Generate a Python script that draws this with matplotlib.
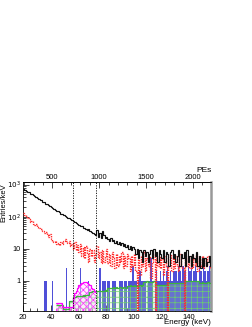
import numpy as np
import matplotlib
matplotlib.use("Agg")
import matplotlib.pyplot as plt
from matplotlib.ticker import FixedLocator, FixedFormatter, MultipleLocator, LogLocator, NullFormatter

plt.rcParams['font.family'] = ['Liberation Sans', 'DejaVu Sans']
plt.rcParams['hatch.linewidth'] = 0.5

# ---------------- data (1 keV bins, 20..156 keV) ----------------
edges = np.arange(20, 157, 1)

total_counts = [
    740, 690, 650, 600, 570, 520, 500, 460, 430, 410,
    380, 360, 330, 320, 290, 280, 255, 240, 225, 210,
    195, 185, 170, 165, 150, 145, 135, 125, 120, 110,
    105, 98, 92, 88, 82, 76, 72, 68, 62, 60,
    55, 52, 50, 45, 44, 40, 38, 42, 36, 33,
    30, 28, 26, 38, 24, 30, 22, 35, 26, 21,
    24, 20, 18, 22, 17, 19, 15, 18, 14, 16,
    13, 15, 12, 14, 11, 13, 10, 12, 9, 11,
    10, 7, 10, 5, 9, 8, 4, 9, 6, 8,
    4, 7, 9, 5, 10, 6, 8, 4, 9, 7,
    5, 9, 4, 8, 7, 3, 8, 9, 5, 7,
    4, 6, 9, 3, 7, 5, 8, 3, 9, 4,
    6, 3, 7, 5, 4, 8, 3, 6, 2.5, 5,
    3, 5, 2.8, 4, 6, 3,
]

red_counts = [
    130, 110, 100, 90, 85, 70, 75, 60, 55, 58,
    48, 45, 40, 42, 35, 30, 33, 26, 24, 28,
    20, 18, 16, 18, 14, 15, 13, 16, 14, 18,
    20, 17, 15, 18, 12, 14, 10, 16, 9, 13,
    8, 14, 6, 11, 5, 12, 7, 4, 10, 6,
    9, 4, 7, 12, 5, 8, 3.5, 9, 4, 6,
    10, 3.5, 7, 3, 8, 5, 2.5, 7, 3, 6,
    4, 8, 2.5, 6, 3, 7, 5, 2, 6, 3,
    7, 2, 0, 5, 1.5, 6, 3, 8, 2, 5,
    3, 6, 1.2, 4, 7, 0, 5, 3, 6, 2.5,
    5, 1.5, 6, 3, 0, 4, 7, 2, 5, 2.5,
    6, 3, 2, 7, 3, 2.5, 0, 5, 3, 6,
    2.5, 6, 2.5, 5, 3, 7, 2, 5, 3, 6,
    2.5, 5, 3, 6, 4, 2.5,
]

blue_counts = [
    0, 0, 0, 0, 0, 0, 0, 0, 0, 0,
    0, 0, 0, 0, 0, 1, 1, 0, 0, 0,
    0, 1, 0, 0, 0, 0, 0, 0, 0, 0,
    0, 2.5, 0, 0, 0, 0, 0, 0, 0, 0,
    0, 2.5, 0, 0, 0, 0, 0, 1, 0, 0,
    0, 0, 0, 0, 0, 2.5, 0, 1, 1, 1,
    0, 1, 1, 0, 1, 1, 1, 0, 0, 1,
    1, 1, 0, 1, 1, 0, 1, 1, 1, 3,
    1, 1, 0, 1, 2, 1, 1, 1, 1, 0,
    1, 1, 5, 1, 0, 1, 2, 1, 1, 2,
    1, 2, 1, 2, 3, 1, 2, 1, 2, 2,
    2, 1, 3, 2, 1, 3, 2, 2, 1, 3,
    2, 3, 1, 2, 3, 2, 1, 3, 2, 1,
    3, 2, 1, 2, 3, 2,
]

# magenta component, 44..73 keV
magenta_edges = np.arange(44, 74, 1)
magenta_counts = [
    0.2, 0.2, 0.2, 0.2, 0.15, 0.15, 0.15, 0.15, 0.15, 0.15,
    0.15, 0.15, 0.3, 0.42, 0.5, 0.62, 0.72, 0.8, 0.86, 0.9,
    0.92, 0.9, 0.86, 0.8, 0.72, 0.62, 0.55, 0.5, 0.45,
]

# green component, 44..156 keV
green_edges = np.arange(44, 157, 1)
green_counts = [
    0.18, 0.18, 0.18, 0.18, 0.18, 0.13, 0.13, 0.13, 0.13, 0.24,
    0.24, 0.24, 0.32, 0.32, 0.33, 0.33, 0.34, 0.33, 0.34, 0.35,
    0.34, 0.35, 0.35, 0.36, 0.45, 0.46, 0.47, 0.48, 0.48, 0.5,
    0.49, 0.5, 0.5, 0.5, 0.5, 0.52, 0.5, 0.6, 0.62, 0.62,
    0.6, 0.63, 0.62, 0.64, 0.62, 0.63, 0.65, 0.62, 0.64, 0.63,
    0.62, 0.7, 0.7, 0.72, 0.7, 0.71, 0.72, 0.7, 0.72, 0.71,
    0.72, 0.7, 0.72, 0.95, 0.95, 0.96, 0.95, 0.94, 0.95, 0.95,
    0.96, 0.75, 0.76, 0.75, 0.74, 0.75, 0.76, 0.75, 0.74, 0.75,
    0.85, 0.86, 0.85, 0.84, 0.86, 0.85, 0.86, 0.85, 0.84, 0.85,
    0.86, 0.85, 0.86, 1.0, 1.0, 1.02, 1.0, 0.98, 1.0, 1.02,
    1.0, 0.99, 1.0, 0.88, 0.88, 0.89, 0.87, 0.88, 0.88, 0.89,
    0.88, 0.88,
]

vlines_keV = [56.0, 72.5]
x_ticks = [20, 40, 60, 80, 100, 120, 140]
pe_ticks = [500, 1000, 1500, 2000]
y_ticks = [1, 10, 100, 1000]
y_ticklabels = ['1', '10', r'$10^2$', r'$10^3$']

# ---------------- figure ----------------
W, H = 253, 327
fig = plt.figure(figsize=(W / 100, H / 100), dpi=100)
ax = fig.add_axes([23 / W, 1 - 311 / H, (211 - 23) / W, (311 - 182) / H])
ax.set_yscale('log')
ax.set_xlim(20, 155.8)
ax.set_ylim(0.115, 1200)

def nz(v):
    v = np.asarray(v, dtype=float)
    return np.where(v > 0, v, 1e-3)

# blue bars
ax.stairs(nz(blue_counts), edges, baseline=1e-3, fill=True,
          color='#4f4fd8', lw=0, zorder=2)
# green hatched component
ax.stairs(nz(green_counts), green_edges, baseline=1e-3, fill=True,
          facecolor=(0.75, 0.95, 0.7, 0.22), edgecolor='#6ccf6c',
          hatch='+++', lw=0, zorder=3)
ax.stairs(nz(green_counts), green_edges, baseline=None, color='#3cb43c',
          lw=0.9, zorder=4)
# magenta hatched component
ax.stairs(nz(magenta_counts), magenta_edges, baseline=1e-3, fill=True,
          facecolor=(1, 0.88, 1, 0.5), edgecolor='#ff33ff', hatch='xxxxx',
          lw=0, zorder=3.5)
ax.stairs(nz(magenta_counts), magenta_edges, baseline=None, color='#ff00ff',
          lw=0.9, zorder=4.5)
# red dotted
ax.stairs(nz(red_counts), edges, baseline=None, color='#ff2a2a',
          lw=1.0, ls=(0, (1, 0.8)), zorder=5)
# black total
ax.stairs(nz(total_counts), edges, baseline=None, color='#111111',
          lw=0.85, zorder=6)

for xv in vlines_keV:
    ax.axvline(xv, color='black', lw=0.6, ls=(0, (1.5, 1.5)), zorder=7)

# axes styling
for s in ['left', 'bottom', 'top']:
    ax.spines[s].set_linewidth(0.6)
ax.spines['right'].set_color('#999999')
ax.spines['right'].set_linewidth(1.8)

ax.xaxis.set_major_locator(FixedLocator(x_ticks))
ax.xaxis.set_minor_locator(MultipleLocator(5))
ax.yaxis.set_major_locator(FixedLocator(y_ticks))
ax.yaxis.set_major_formatter(FixedFormatter(y_ticklabels))
ax.yaxis.set_minor_locator(LogLocator(base=10, subs=np.arange(2, 10)))
ax.yaxis.set_minor_formatter(NullFormatter())
ax.tick_params(axis='both', which='major', direction='in', length=4,
               width=0.5, labelsize=5.5, pad=2)
ax.tick_params(axis='y', which='major', pad=1.5, labelsize=5.2)
ax.tick_params(axis='both', which='minor', direction='in', length=2, width=0.5)
ax.tick_params(axis='x', top=False, right=False)
ax.tick_params(axis='y', right=False)

# top PE axis
def e2pe(e):
    return 500 + (np.asarray(e) - 41.18) * 14.78

def pe2e(p):
    return 41.18 + (np.asarray(p) - 500) / 14.78

sec = ax.secondary_xaxis('top', functions=(e2pe, pe2e))
sec.xaxis.set_major_locator(FixedLocator(pe_ticks))
sec.xaxis.set_minor_locator(MultipleLocator(100))
sec.tick_params(axis='x', which='major', direction='in', length=4, width=0.5,
                labelsize=5.5, pad=0.5)
sec.tick_params(axis='x', which='minor', direction='in', length=2, width=0.5)
sec.spines['top'].set_linewidth(0.6)

fig.text(212 / W, 1 - 171 / H, 'PEs', ha='right', va='center', fontsize=6)
fig.text(211 / W, 1 - 323 / H, 'Energy (keV)', ha='right', va='center', fontsize=5.8)
fig.text(4 / W, 1 - 183 / H, 'Entries/keV', ha='center', va='top',
         rotation=90, fontsize=5.4)

fig.savefig('out.png', dpi=100)
